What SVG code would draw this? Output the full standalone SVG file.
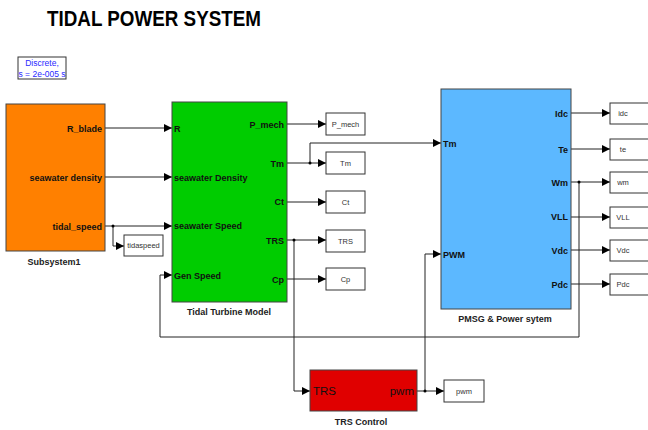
<svg xmlns="http://www.w3.org/2000/svg" width="648" height="430" viewBox="0 0 648 430">
<defs>
<style>
.t{font-family:"Liberation Sans",Arial,sans-serif}
.pl{font-family:"Liberation Sans",Arial,sans-serif;font-size:9px;font-weight:bold;fill:#111}
.cap{font-family:"Liberation Sans",Arial,sans-serif;font-size:9px;font-weight:bold;fill:#222}
.disp{fill:#fff;stroke:#333;stroke-width:1}
.dt{font-family:"Liberation Sans",Arial,sans-serif;font-size:7.5px;fill:#333;text-anchor:middle}
.blk{stroke:#444;stroke-width:1}
.w{fill:none;stroke:#222;stroke-width:1}
.wa{fill:none;stroke:#222;stroke-width:1;marker-end:url(#ah)}
</style>
<marker id="ah" viewBox="0 0 8 8" refX="8" refY="4" markerWidth="8" markerHeight="8" markerUnits="userSpaceOnUse" orient="auto">
<path d="M0,0 L8,4 L0,8 z" fill="#000"/>
</marker>
</defs>
<rect width="648" height="430" fill="#fff"/>
<text class="t" x="47" y="26" font-size="22" font-weight="bold" textLength="214" lengthAdjust="spacingAndGlyphs" fill="#000">TIDAL POWER SYSTEM</text>
<g id="powergui">
<rect x="18" y="57" width="48" height="22" fill="#fff" stroke="#333"/>
<text class="t" x="42" y="66" font-size="8.5" fill="#2a2aff" text-anchor="middle">Discrete,</text>
<text class="t" x="42" y="77" font-size="8.5" fill="#2a2aff" text-anchor="middle">s = 2e-005 s</text>
</g>
<g id="connectors">
<path class="wa" d="M105,128 H172"/>
<path class="wa" d="M105,177 H172"/>
<path class="wa" d="M105,226 H172"/>
<path class="wa" d="M113,226 V246 H124"/>
<path class="wa" d="M287,124 H326"/>
<path class="wa" d="M287,163 H326"/>
<path class="wa" d="M310,163 V143 H441"/>
<path class="wa" d="M287,202 H326"/>
<path class="wa" d="M287,240 H326"/>
<path class="wa" d="M294,240 V391 H310"/>
<path class="wa" d="M287,279 H326"/>
<path class="wa" d="M571,113 H610"/>
<path class="wa" d="M571,149 H610"/>
<path class="wa" d="M571,182 H610"/>
<path class="wa" d="M571,217 H610"/>
<path class="wa" d="M571,250 H610"/>
<path class="wa" d="M571,284 H610"/>
<path class="wa" d="M579,182 V337 H160 V275 H172"/>
<path class="wa" d="M417,391 H444"/>
<path class="wa" d="M425,391 V254 H441"/>
<circle cx="113" cy="226" r="1.5" fill="#000"/>
<circle cx="310" cy="163" r="1.5" fill="#000"/>
<circle cx="294" cy="240" r="1.5" fill="#000"/>
<circle cx="579" cy="182" r="1.5" fill="#000"/>
<circle cx="425" cy="391" r="1.5" fill="#000"/>
</g>
<g id="subsystem1">
<rect class="blk" x="6" y="104" width="99" height="147" fill="#ff8000"/>
<text class="pl" x="102" y="131.5" text-anchor="end">R_blade</text>
<text class="pl" x="102" y="180.5" text-anchor="end">seawater density</text>
<text class="pl" x="102" y="229.5" text-anchor="end">tidal_speed</text>
<text class="cap" x="54" y="265" text-anchor="middle" font-size="9.5">Subsystem1</text>
</g>
<g id="tidaspeed">
<rect class="disp" x="124" y="235" width="39" height="21"/>
<text class="dt" x="143.5" y="248">tidaspeed</text>
</g>
<g id="turbine">
<rect class="blk" x="172" y="102" width="115" height="200" fill="#00cc00"/>
<text class="pl" x="174" y="131.5">R</text>
<text class="pl" x="174" y="180.5">seawater Density</text>
<text class="pl" x="174" y="229">seawater Speed</text>
<text class="pl" x="174" y="278.5">Gen Speed</text>
<text class="pl" x="284" y="127.5" text-anchor="end">P_mech</text>
<text class="pl" x="284" y="166.5" text-anchor="end">Tm</text>
<text class="pl" x="284" y="205" text-anchor="end">Ct</text>
<text class="pl" x="284" y="244" text-anchor="end">TRS</text>
<text class="pl" x="284" y="282.5" text-anchor="end">Cp</text>
<text class="cap" x="229" y="314.5" text-anchor="middle">Tidal Turbine Model</text>
</g>
<g id="d_pmech"><rect class="disp" x="326" y="113" width="39" height="22"/><text class="dt" x="345.5" y="127">P_mech</text></g>
<g id="d_tm"><rect class="disp" x="326" y="152" width="39" height="22"/><text class="dt" x="345.5" y="166">Tm</text></g>
<g id="d_ct"><rect class="disp" x="326" y="191" width="39" height="22"/><text class="dt" x="345.5" y="205">Ct</text></g>
<g id="d_trs"><rect class="disp" x="326" y="230" width="39" height="22"/><text class="dt" x="345.5" y="243.5">TRS</text></g>
<g id="d_cp"><rect class="disp" x="326" y="268" width="39" height="22"/><text class="dt" x="345.5" y="282">Cp</text></g>
<g id="pmsg">
<rect class="blk" x="441" y="89" width="130" height="220" fill="#5cb8ff"/>
<text class="pl" x="443" y="146.5">Tm</text>
<text class="pl" x="443" y="257.5">PWM</text>
<text class="pl" x="568" y="116.5" text-anchor="end">Idc</text>
<text class="pl" x="568" y="152.5" text-anchor="end">Te</text>
<text class="pl" x="568" y="185.5" text-anchor="end">Wm</text>
<text class="pl" x="568" y="220" text-anchor="end">VLL</text>
<text class="pl" x="568" y="253.5" text-anchor="end">Vdc</text>
<text class="pl" x="568" y="287.5" text-anchor="end">Pdc</text>
<text class="cap" x="505" y="321.5" text-anchor="middle">PMSG &amp; Power sytem</text>
</g>
<g id="d_idc"><rect class="disp" x="610" y="103" width="45" height="21"/><text class="dt" x="623" y="116">idc</text></g>
<g id="d_te"><rect class="disp" x="610" y="139" width="45" height="21"/><text class="dt" x="623" y="152">te</text></g>
<g id="d_wm"><rect class="disp" x="610" y="172" width="45" height="21"/><text class="dt" x="623" y="185">wm</text></g>
<g id="d_vll"><rect class="disp" x="610" y="207" width="45" height="21"/><text class="dt" x="623" y="220">VLL</text></g>
<g id="d_vdc"><rect class="disp" x="610" y="240" width="45" height="21"/><text class="dt" x="623" y="253">Vdc</text></g>
<g id="d_pdc"><rect class="disp" x="610" y="274" width="45" height="21"/><text class="dt" x="623" y="287">Pdc</text></g>
<g id="trs_control">
<rect class="blk" x="310" y="370" width="107" height="41" fill="#e00000"/>
<text class="t" x="313" y="395" font-size="11.5" fill="#111">TRS</text>
<text class="t" x="414" y="395" font-size="11.5" fill="#111" text-anchor="end">pwm</text>
<text class="cap" x="361" y="425" text-anchor="middle" font-size="11">TRS Control</text>
</g>
<g id="d_pwm"><rect class="disp" x="444" y="380" width="40" height="22"/><text class="dt" x="464" y="393.5">pwm</text></g>
</svg>
